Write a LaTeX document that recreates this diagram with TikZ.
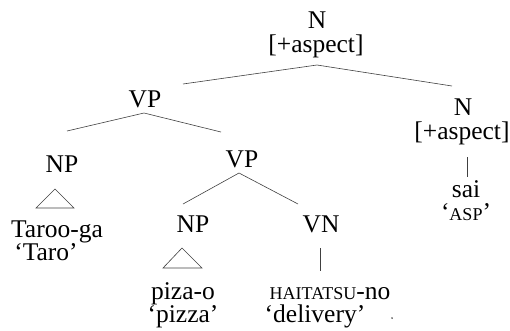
\documentclass[tikz,border=0pt]{standalone}
\usepackage{fontspec}
\setmainfont{Liberation Serif}
\newcommand{\fakesc}[1]{{\fontsize{18}{20}\selectfont #1}}
\begin{document}
\begin{tikzpicture}[x=1pt,y=-1pt,
  lbl/.style={anchor=base,inner sep=0pt,font=\fontsize{25.5}{28}\selectfont},
  branch/.style={draw=black!75,line width=0.6pt}]
\useasboundingbox (0,0) rectangle (510,330);
% labels
\node[lbl] (n0) at (317,28) {N};
\node[lbl] (n0f) at (316,52) {[+aspect]};
\node[lbl] (vp1) at (145,107) {VP};
\node[lbl] (n1) at (463,115) {N};
\node[lbl] (n1f) at (462,139) {[+aspect]};
\node[lbl] (sai) at (466,197) {sai};
\node[lbl] (asp) at (466,220) {‘\fakesc{ASP}’};
\node[lbl] (np1) at (62,172) {NP};
\node[lbl] (taroo) at (57,237) {Taroo-ga};
\node[lbl] (taro) at (46,260) {‘Taro’};
\node[lbl] (vp2) at (242,167) {VP};
\node[lbl] (np2) at (193,232) {NP};
\node[lbl] (vn) at (321,232) {VN};
\node[lbl] (piza) at (183,299) {piza-o};
\node[lbl] (pizza) at (183,322) {‘pizza’};
\node[lbl] (hai) at (330,299) {\fakesc{HAITATSU}-no};
\node[lbl] (deliv) at (315,322) {‘delivery’};
\node[circle,fill=black!70,inner sep=0.7pt] (dot) at (392,318) {};
% branch points
\coordinate (a0) at (317,65);
\coordinate (a0l) at (183,84);
\coordinate (a0r) at (452,86);
\coordinate (a1) at (144,113);
\coordinate (a1l) at (67,131);
\coordinate (a1r) at (221,132);
\coordinate (a2) at (239,173);
\coordinate (a2l) at (183,204);
\coordinate (a2r) at (298,204);
\coordinate (n1b) at (467,157);
\coordinate (n1e) at (467,177);
\coordinate (vnb) at (320,248);
\coordinate (vne) at (320,271);
\coordinate (t1) at (55,189);
\coordinate (t1l) at (36,208);
\coordinate (t1r) at (74,208);
\coordinate (t2) at (182,248);
\coordinate (t2l) at (163,268);
\coordinate (t2r) at (202,268);
% connectors
\draw[branch] (a0l) -- (a0) -- (a0r);
\draw[branch] (a1l) -- (a1) -- (a1r);
\draw[branch] (a2l) -- (a2) -- (a2r);
\draw[branch] (n1b) -- (n1e);
\draw[branch] (vnb) -- (vne);
\draw[branch] (t1) -- (t1l) -- (t1r) -- cycle;
\draw[branch] (t2) -- (t2l) -- (t2r) -- cycle;
\end{tikzpicture}
\end{document}
